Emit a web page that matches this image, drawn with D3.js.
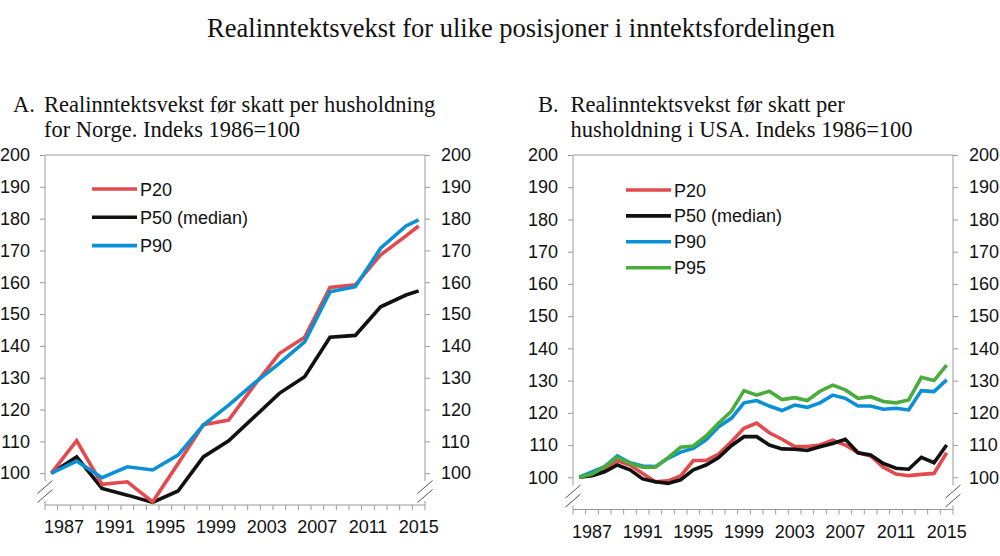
<!DOCTYPE html>
<html>
<head>
<meta charset="utf-8">
<script src="https://cdn.jsdelivr.net/npm/d3@7"></script>
<style>
  html, body { margin: 0; padding: 0; background: #fff; }
  svg { display: block; }
</style>
</head>
<body>
<svg id="chart" width="1000" height="556"></svg>
<script>
// ---------- DATA ----------
const allYears = d3.range(1986, 2016);
const tickLabelYears = [1987, 1991, 1995, 1999, 2003, 2007, 2011, 2015];
const yTicks = [100, 110, 120, 130, 140, 150, 160, 170, 180, 190, 200];

// Panel A: Norway (points every second year + 2015)
const norYears = [1986, 1988, 1990, 1992, 1994, 1996, 1998, 2000, 2002, 2004, 2006, 2008, 2010, 2012, 2014, 2015];
const norP20 = [100, 110.2, 96.5, 97.3, 91.0, 103.0, 115.2, 116.7, 127.5, 137.6, 142.7, 158.4, 159.2, 168.6, 174.6, 177.7];
const norP50 = [100, 105.1, 95.2, 93.1, 90.8, 94.4, 105.1, 110.2, 117.6, 125.1, 130.3, 142.7, 143.3, 152.3, 156.0, 157.3];
const norP90 = [100, 103.8, 98.6, 102.0, 101.0, 105.7, 115.1, 121.4, 128.2, 134.5, 141.3, 157.0, 158.6, 170.7, 177.7, 179.6];

// Panel B: USA (annual)
const usaYears = d3.range(1986, 2016);
const usaP20 = [100, 101.0, 102.3, 105.1, 103.8, 101.2, 98.6, 98.9, 100.4, 105.2, 105.2, 107.2, 111.0, 115.2, 116.8, 113.8, 111.8, 109.5, 109.5, 110.0, 111.5, 110.0, 107.6, 106.6, 103.1, 101.0, 100.5, 100.9, 101.2, 107.6];
const usaP50 = [100, 100.5, 101.7, 103.8, 102.3, 99.5, 98.6, 98.1, 99.2, 102.3, 103.8, 106.1, 109.8, 112.6, 112.6, 110.0, 108.8, 108.7, 108.3, 109.5, 110.5, 111.8, 107.6, 106.9, 104.3, 102.8, 102.5, 106.2, 104.5, 110.0];
const usaP90 = [100, 101.7, 103.3, 106.6, 104.5, 103.5, 103.3, 105.9, 107.8, 109.0, 111.6, 115.7, 118.3, 123.1, 123.8, 122.1, 120.7, 122.4, 121.7, 123.1, 125.5, 124.5, 122.1, 122.1, 121.1, 121.4, 120.9, 126.9, 126.6, 130.2];
const usaP95 = [100, 101.0, 103.3, 106.2, 104.3, 103.1, 103.1, 106.1, 109.3, 109.7, 112.8, 116.8, 120.5, 126.9, 125.5, 126.7, 124.1, 124.7, 123.8, 126.7, 128.6, 127.1, 124.5, 125.0, 123.5, 123.1, 124.0, 131.0, 130.0, 134.8];

const colors = { P20: "#e34a4d", P50: "#111111", P90: "#0a90d6", P95: "#4aad3b" };

const panels = [
  {
    letter: "A.",
    lines: ["Realinntektsvekst før skatt per husholdning", "for Norge. Indeks 1986=100"],
    labelX: 13, textX: 44,
    left: 45, right: 425, top: 155, bottom: 505,
    legendX: 92, legendY: 189, legendStep: 28.3,
    years: norYears,
    series: [
      { name: "P20", label: "P20", values: norP20 },
      { name: "P50", label: "P50 (median)", values: norP50 },
      { name: "P90", label: "P90", values: norP90 }
    ],
    drawOrder: ["P50", "P20", "P90"]
  },
  {
    letter: "B.",
    lines: ["Realinntektsvekst før skatt per", "husholdning i USA. Indeks 1986=100"],
    labelX: 538, textX: 570.5,
    left: 573, right: 953, top: 155, bottom: 509.5,
    legendX: 626, legendY: 190, legendStep: 25.9,
    years: usaYears,
    series: [
      { name: "P20", label: "P20", values: usaP20 },
      { name: "P50", label: "P50 (median)", values: usaP50 },
      { name: "P90", label: "P90", values: usaP90 },
      { name: "P95", label: "P95", values: usaP95 }
    ],
    drawOrder: ["P20", "P50", "P90", "P95"]
  }
];

// ---------- DRAW ----------
const svg = d3.select("#chart");
const axisColor = "#9a9a9a";
const sans = "'Liberation Sans', Arial, sans-serif";
const serif = "'Liberation Serif', 'Times New Roman', serif";

svg.append("text")
  .attr("x", 521).attr("y", 37)
  .attr("text-anchor", "middle")
  .attr("font-family", serif).attr("font-size", 26.5)
  .attr("fill", "#111")
  .text("Realinntektsvekst for ulike posisjoner i inntektsfordelingen");

panels.forEach(p => {
  const g = svg.append("g");

  // subtitle
  g.append("text").attr("x", p.labelX).attr("y", 112)
    .attr("font-family", serif).attr("font-size", 22.5).attr("fill", "#111").text(p.letter);
  p.lines.forEach((ln, i) => {
    g.append("text").attr("x", p.textX).attr("y", 112 + i * 24.5)
      .attr("font-family", serif).attr("font-size", 22.5).attr("fill", "#111").text(ln);
  });

  const x = d3.scaleBand().domain(allYears).range([p.left, p.right]).paddingInner(0).paddingOuter(0);
  const xc = yr => x(yr) + x.bandwidth() / 2;
  const y = d3.scaleLinear().domain([90, 200]).range([p.bottom, p.top]);

  // top frame line
  g.append("line").attr("x1", p.left).attr("x2", p.right).attr("y1", p.top).attr("y2", p.top)
    .attr("stroke", axisColor).attr("stroke-width", 1);

  // left axis
  const la = g.append("g").attr("transform", `translate(${p.left},0)`)
    .call(d3.axisLeft(y).tickValues(yTicks).tickSize(5).tickPadding(10).tickFormat(d3.format("d")));
  la.select(".domain").remove();
  la.selectAll("line").attr("stroke", axisColor);
  la.selectAll("text").attr("font-family", sans).attr("font-size", 18).attr("fill", "#111");

  // right axis
  const ra = g.append("g").attr("transform", `translate(${p.right},0)`)
    .call(d3.axisRight(y).tickValues(yTicks).tickSize(5).tickPadding(11).tickFormat(d3.format("d")));
  ra.select(".domain").remove();
  ra.selectAll("line").attr("stroke", axisColor);
  ra.selectAll("text").attr("font-family", sans).attr("font-size", 18).attr("fill", "#111");

  // vertical axis lines with break
  const breakTop = p.bottom - 24, breakBot = p.bottom - 4;
  [p.left, p.right].forEach(ax => {
    g.append("line").attr("x1", ax).attr("x2", ax).attr("y1", p.top).attr("y2", breakTop)
      .attr("stroke", axisColor).attr("stroke-width", 1);
    g.append("line").attr("x1", ax).attr("x2", ax).attr("y1", breakBot).attr("y2", p.bottom)
      .attr("stroke", axisColor).attr("stroke-width", 1);
    [p.bottom - 18, p.bottom - 9].forEach(cy => {
      g.append("line").attr("x1", ax - 7.5).attr("y1", cy + 6.5).attr("x2", ax + 7.5).attr("y2", cy - 6.5)
        .attr("stroke", "#555").attr("stroke-width", 1);
    });
  });

  // bottom axis
  g.append("line").attr("x1", p.left).attr("x2", p.right).attr("y1", p.bottom).attr("y2", p.bottom)
    .attr("stroke", axisColor).attr("stroke-width", 1);
  const boundaries = allYears.map(yr => x(yr)).concat([p.right]);
  g.selectAll(".xtick").data(boundaries).join("line")
    .attr("x1", d => d).attr("x2", d => d).attr("y1", p.bottom).attr("y2", p.bottom + 5)
    .attr("stroke", axisColor).attr("stroke-width", 1);
  g.selectAll(".xlab").data(tickLabelYears).join("text")
    .attr("x", d => xc(d)).attr("y", p.bottom + 28)
    .attr("text-anchor", "middle")
    .attr("font-family", sans).attr("font-size", 18).attr("fill", "#111")
    .text(d => d);

  // series lines
  const line = d3.line().x(d => xc(d[0])).y(d => y(d[1]));
  p.drawOrder.forEach(nm => {
    const s = p.series.find(q => q.name === nm);
    const pts = p.years.map((yr, i) => [yr, s.values[i]]);
    g.append("path").datum(pts).attr("d", line)
      .attr("fill", "none").attr("stroke", colors[nm]).attr("stroke-width", 3.6)
      .attr("stroke-linejoin", "miter");
  });

  // legend
  p.series.forEach((s, i) => {
    const ly = p.legendY + i * p.legendStep;
    g.append("line").attr("x1", p.legendX).attr("x2", p.legendX + 45).attr("y1", ly).attr("y2", ly)
      .attr("stroke", colors[s.name]).attr("stroke-width", 3.6);
    g.append("text").attr("x", p.legendX + 48).attr("y", ly + 6.5)
      .attr("font-family", sans).attr("font-size", 18).attr("fill", "#111").text(s.label);
  });
});
</script>
</body>
</html>
